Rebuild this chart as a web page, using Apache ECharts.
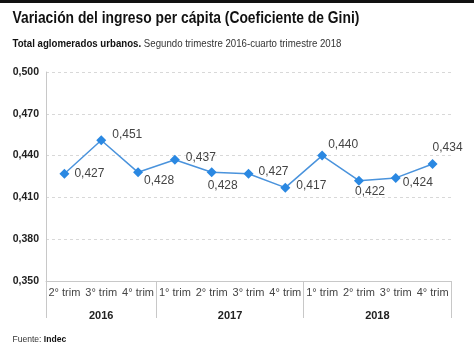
<!DOCTYPE html>
<html><head><meta charset="utf-8">
<script src="https://cdn.jsdelivr.net/npm/echarts@6/dist/echarts.min.js"></script>
<style>html,body{margin:0;padding:0;background:#fff}#c{width:474px;height:353px}</style>
</head><body><div id="c"></div>
<script>
const quarters = ['2° trim','3° trim','4° trim','1° trim','2° trim','3° trim','4° trim','1° trim','2° trim','3° trim','4° trim'];
const years = ['2016','2017','2018'];
const quartersPerYear = [3,4,4];
const gini = [0.427,0.451,0.428,0.437,0.428,0.427,0.417,0.440,0.422,0.424,0.434];
const labelOffsets = [[0,0],[1,-6],[-4,8],[1,-2],[-14,13],[0,-2],[1,-2],[-4,-11],[-14,11],[-3,5],[-10,-16]];

const titleText = 'Variación del ingreso per cápita (Coeficiente de Gini)';
const subtitleText = '{b|Total aglomerados urbanos.} Segundo trimestre 2016-cuarto trimestre 2018';
const sourceText = 'Fuente: {b|Indec}';

// year axis: points at category boundaries (half steps)
const yearAxisData = [];
const yearTickIdx = [0];
const yearLabelIdx = {};
let pos = 0;
quartersPerYear.forEach((n,i)=>{ yearLabelIdx[2*pos+n] = years[i]; pos += n; yearTickIdx.push(2*pos); });
for (let i=0;i<=2*quarters.length;i++) yearAxisData.push(yearLabelIdx[i] || '');

const fmt = v => v.toFixed(3).replace('.', ',');
const chart = echarts.init(document.getElementById('c'));
chart.setOption({
  animation:false,
  graphic:[
    {type:'rect', shape:{x:0,y:0,width:474,height:3}, style:{fill:'#111'}},
    {type:'text', x:12.5, y:18.5, scaleX:0.865,
     style:{text:titleText, fontFamily:'Liberation Sans', fontSize:16, fontWeight:'bold', fill:'#111', textVerticalAlign:'middle'}},
    {type:'text', x:12.5, y:44, scaleX:0.92,
     style:{text:subtitleText, fontFamily:'Liberation Sans', fontSize:10.5, fill:'#333', textVerticalAlign:'middle',
       rich:{b:{fontWeight:'bold', fontSize:10.5, fill:'#111', fontFamily:'Liberation Sans'}}}},
    {type:'text', x:12.5, y:339, scaleX:0.9,
     style:{text:sourceText, fontFamily:'Liberation Sans', fontSize:9.5, fill:'#333', textVerticalAlign:'middle',
       rich:{b:{fontWeight:'bold', fontSize:9.5, fill:'#111', fontFamily:'Liberation Sans'}}}}
  ],
  grid:{left:46, right:23, top:72, bottom:72},
  xAxis:[
    {type:'category', data:quarters, boundaryGap:true,
     axisLine:{lineStyle:{color:'#c8c8c8'}},
     axisTick:{interval:0, length:18, lineStyle:{color:'#c8c8c8'}},
     axisLabel:{interval:0, margin:6, fontFamily:'Liberation Sans', fontSize:11, color:'#444'}},
    {type:'category', data:yearAxisData, boundaryGap:false, position:'bottom',
     axisLine:{show:false},
     axisTick:{interval:(i)=>yearTickIdx.includes(i), length:37, lineStyle:{color:'#c8c8c8'}},
     axisLabel:{interval:0, margin:29, fontFamily:'Liberation Sans', fontSize:11, fontWeight:'bold', color:'#222'}}
  ],
  yAxis:{type:'value', min:0.35, max:0.5, interval:0.03,
    axisLine:{show:true, lineStyle:{color:'#c8c8c8'}},
    axisTick:{show:false},
    splitLine:{lineStyle:{color:'#d8d8d8', type:[3,3]}},
    axisLabel:{formatter:fmt, margin:7, fontFamily:'Liberation Sans', fontSize:10.5, fontWeight:'bold', color:'#222'}},
  series:[{type:'line', xAxisIndex:0, data:gini.map((v,i)=>({value:v, label:{offset:labelOffsets[i]}})),
    symbol:'diamond', symbolSize:10,
    lineStyle:{color:'#4a93dc', width:1.5},
    itemStyle:{color:'#2a88e2'},
    label:{show:true, position:'right', formatter:p=>fmt(p.value), fontFamily:'Liberation Sans', fontSize:12, color:'#444'}}]
});
</script></body></html>
